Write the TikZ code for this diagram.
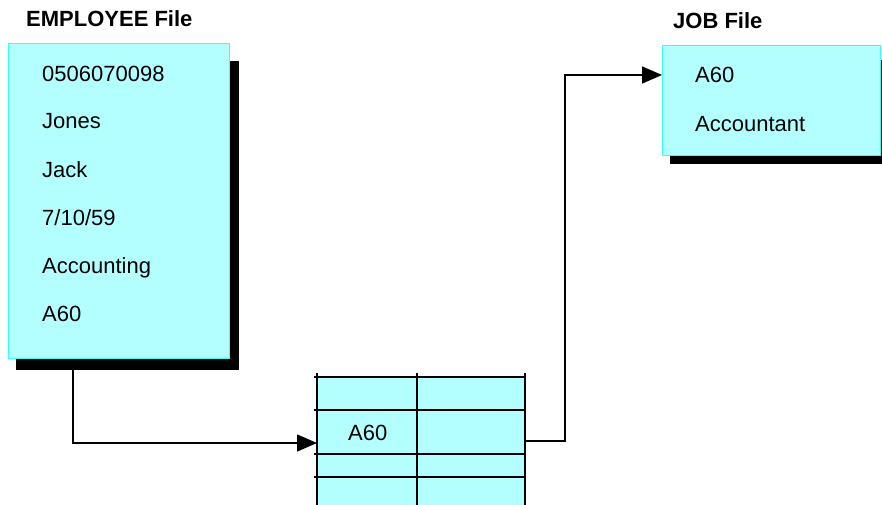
\documentclass[tikz,border=0pt]{standalone}
\usepackage{fontspec}
\setmainfont{Liberation Sans}
\usetikzlibrary{arrows.meta}
\definecolor{boxfill}{HTML}{B3FFFF}
\definecolor{boxedge}{HTML}{33FFFF}
\begin{document}
\begin{tikzpicture}[x=1pt,y=-1pt,
  txt/.style={anchor=base west,inner sep=0pt,font=\fontsize{22}{26}\selectfont},
  ttl/.style={anchor=base west,inner sep=0pt,font=\fontsize{22}{26}\selectfont\bfseries},
  filebox/.style={draw=boxedge,fill=boxfill,line width=1.2pt,rectangle,inner sep=0pt,anchor=north west},
  shadowbox/.style={fill=black,draw=none,rectangle,inner sep=0pt,anchor=north west},
  grid/.style={line width=1.6pt,draw=black},
  conn/.style={line width=1.5pt,-{Triangle[length=20pt,width=17pt]}}]
\useasboundingbox (0,0) rectangle (882,505);
\fill[white] (0,0) rectangle (882,505);
% EMPLOYEE file
\node[ttl] (emptitle) at (26,27) {EMPLOYEE File};
\node[shadowbox,minimum width=223pt,minimum height=309pt] (empshadow) at (16,61) {};
\node[filebox,minimum width=221pt,minimum height=315pt] (emp) at (8,43) {};
\node[txt] (f1) at (42,82) {0506070098};
\node[txt] (f2) at (42,129) {Jones};
\node[txt] (f3) at (42,177) {Jack};
\node[txt] (f4) at (42,225) {7/10/59};
\node[txt] (f5) at (42,273) {Accounting};
\node[txt] (f6) at (42,321) {A60};
% JOB file
\node[ttl] (jobtitle) at (673,29) {JOB File};
\node[shadowbox,minimum width=212pt,minimum height=104pt] (jobshadow) at (670,60) {};
\node[filebox,minimum width=218pt,minimum height=110pt] (job) at (662,45) {};
\node[txt] (j1) at (695,83) {A60};
\node[txt] (j2) at (695,132) {Accountant};
% index table
\node[rectangle,fill=boxfill,inner sep=0pt,anchor=north west,minimum width=208pt,minimum height=128pt] (tbl) at (317,377) {};
\foreach \yy in {377,410,454,477} \draw[grid] (314,\yy) -- (525,\yy);
\foreach \xx in {317,417,525} \draw[grid] (\xx,373) -- (\xx,505);
\node[txt] (t1) at (348,440) {A60};
% connectors
\coordinate (e1) at (73,370);
\coordinate (tin) at (317,443);
\coordinate (tout) at (525,441);
\coordinate (bend) at (565,441);
\coordinate (jin) at (662,75);
\draw[conn] (e1) |- (tin);
\draw[conn] (tout) -- (bend) |- (jin);
\end{tikzpicture}
\end{document}
